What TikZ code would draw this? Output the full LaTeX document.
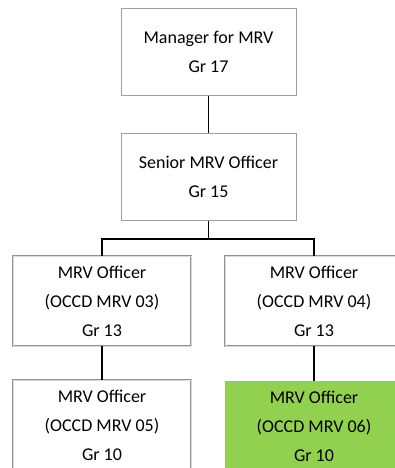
\documentclass[tikz,border=0pt]{standalone}
\usepackage{fontspec}
\setmainfont{Carlito}
\usepackage{xcolor}
\definecolor{postgreen}{HTML}{92D050}

\begin{document}
\begin{tikzpicture}[x=1pt, y=-1pt,
  post/.style={rectangle, draw=gray!75, line width=1pt, fill=white,
    minimum width=175pt, minimum height=87pt, inner sep=0pt, align=center,
    font={\fontsize{18}{29}\selectfont}},
  officer/.style={post, minimum width=178pt, minimum height=90pt,
    draw=gray!85, line width=0.7pt, double=gray!30, double distance=0.7pt},
  link/.style={black, line width=1.8pt, line join=miter}]

\useasboundingbox (0,0) rectangle (395,468);
\clip (0,0) rectangle (395,468);

\node[post] (mgr) at (208.5,52) {Manager for MRV\\Gr 17};
\node[post] (senior) at (208.5,176.5) {Senior MRV Officer\\Gr 15};
\coordinate (bar) at (208.5,239);

\node[officer] (o3) at (102,301) {MRV Officer\\(OCCD MRV 03)\\Gr 13};
\node[officer] (o4) at (314,301) {MRV Officer\\(OCCD MRV 04)\\Gr 13};
\node[officer] (o5) at (102,425) {MRV Officer\\(OCCD MRV 05)\\Gr 10};
\node[officer, draw=none, double=none, fill=postgreen] (o6) at (314,426) {MRV Officer\\(OCCD MRV 06)\\Gr 10};

\draw[link] (mgr) -- (senior)
            (senior) -- (bar)
            (o3) |- (bar) -| (o4)
            (o3) -- (o5)
            (o4) -- (o6);
\end{tikzpicture}
\end{document}
